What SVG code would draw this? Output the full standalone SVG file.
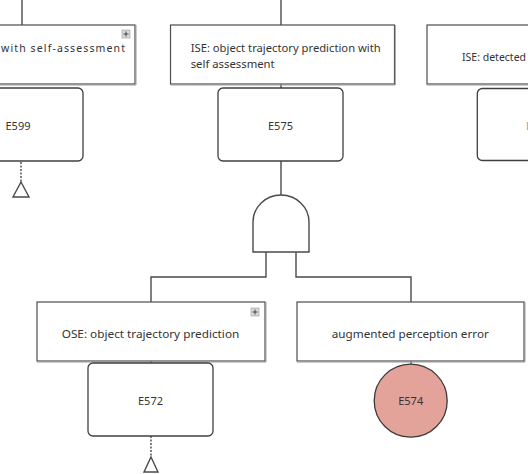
<svg xmlns="http://www.w3.org/2000/svg" width="528" height="474" viewBox="0 0 528 474">
  <style>
    .desc { fill: #ffffff; stroke: #4d4d4d; stroke-width: 1.2; }
    .shadow { fill: none; stroke: #9a9a9a; stroke-width: 1; }
    .event { fill: #ffffff; stroke: #3f3f3f; stroke-width: 1.3; }
    .txt { font-family: "Noto Sans", "Open Sans", "Liberation Sans", sans-serif; font-size: 10.5px; fill: #333333; }
    .lbl { font-family: "Noto Sans", "Open Sans", "Liberation Sans", sans-serif; font-size: 11px; fill: #333333; text-anchor: middle; }
    .wire { fill: none; stroke: #4a4a4a; stroke-width: 1.4; }
    .dash { fill: none; stroke: #4a4a4a; stroke-width: 1.4; stroke-dasharray: 2 1.5; }
    .gate { fill: #ffffff; stroke: #4a4a4a; stroke-width: 1.4; }
    .plusbox { fill: #d9d9d9; stroke: #9a9a9a; stroke-width: 0.6; }
    .plus { stroke: #444444; stroke-width: 1; }
  </style>

  <!-- connectors -->
  <g id="connectors">
    <path class="wire" d="M22,0 V25"/>
    <path class="wire" d="M281,0 V25"/>
    <path class="wire" d="M281,84 V88"/>
    <path class="wire" d="M281,161 V195"/>
    <path class="wire" d="M266,252 V277 H151 V302"/>
    <path class="wire" d="M296,252 V277 H411 V302"/>
    <path class="wire" d="M151,361 V363"/>
    <path class="wire" d="M411,361 V364"/>
    <path class="dash" d="M21,162 V182"/>
    <path class="dash" d="M151,436 V457"/>
  </g>

  <!-- AND gate under E575 -->
  <g id="gate-and">
    <path class="gate" d="M253,252 V222 A28,27 0 0 1 309,222 V252 Z"/>
  </g>

  <!-- left branch: self-assessment -->
  <g id="node-left">
    <rect class="desc" x="-89" y="25" width="224" height="59"/>
    <path class="shadow" d="M-89,85 H136 V25"/>
    <rect class="plusbox" x="122" y="30" width="8" height="8"/>
    <path class="plus" d="M123.5,34 H128.5 M126,31.5 V36.5"/>
    <text class="txt" x="125" y="52" text-anchor="end" textLength="124" lengthAdjust="spacing">with self-assessment</text>
  </g>
  <g id="event-e599">
    <rect class="event" x="-42" y="88" width="125" height="73" rx="5"/>
    <text class="lbl" x="30.5" y="129.5" style="text-anchor:end">E599</text>
  </g>
  <g id="transfer-left">
    <path class="gate" d="M21,182 L29,197 H13 Z"/>
  </g>

  <!-- middle branch -->
  <g id="node-ise-trajectory">
    <rect class="desc" x="170.5" y="25" width="224" height="59"/>
    <path class="shadow" d="M170.5,85 H395.3 V25"/>
    <text class="txt" x="190.7" y="52" textLength="190" lengthAdjust="spacingAndGlyphs">ISE: object trajectory prediction with</text>
    <text class="txt" x="190.7" y="68" textLength="84" lengthAdjust="spacingAndGlyphs">self assessment</text>
  </g>
  <g id="event-e575">
    <rect class="event" x="218" y="88" width="125" height="73" rx="5"/>
    <text class="lbl" x="280.5" y="129.5">E575</text>
  </g>

  <!-- right branch -->
  <g id="node-ise-detected">
    <rect class="desc" x="427" y="25" width="224" height="59"/>
    <path class="shadow" d="M427,85 H652"/>
    <text class="txt" x="462" y="60.5">ISE: detected</text>
  </g>
  <g id="event-right">
    <rect class="event" x="477.3" y="88.5" width="125" height="72" rx="5"/>
    <text class="lbl" x="526" y="129.5" style="text-anchor:start;fill:#c89a6a">E</text>
  </g>

  <!-- OSE: object trajectory prediction -->
  <g id="node-ose">
    <rect class="desc" x="37" y="302" width="228" height="59"/>
    <path class="shadow" d="M37,362 H266 V302"/>
    <rect class="plusbox" x="251" y="308" width="8" height="8"/>
    <path class="plus" d="M252.5,312 H257.5 M255,309.5 V314.5"/>
    <text class="txt" x="150.5" y="337.5" text-anchor="middle" textLength="177.6" lengthAdjust="spacingAndGlyphs">OSE: object trajectory prediction</text>
  </g>
  <g id="event-e572">
    <rect class="event" x="88" y="363" width="125" height="73" rx="5"/>
    <text class="lbl" x="150.5" y="405">E572</text>
  </g>
  <g id="transfer-e572">
    <path class="gate" d="M151,457 L158,472 H144 Z"/>
  </g>

  <!-- augmented perception error -->
  <g id="node-augmented">
    <rect class="desc" x="297" y="302" width="227" height="59"/>
    <path class="shadow" d="M297,362 H525 V302"/>
    <text class="txt" x="410.3" y="337.5" text-anchor="middle" textLength="157" lengthAdjust="spacingAndGlyphs">augmented perception error</text>
  </g>
  <g id="event-e574">
    <circle cx="410.7" cy="400.7" r="36.5" fill="#e3a39a" stroke="#3a3a3a" stroke-width="1.3"/>
    <text class="lbl" x="410.7" y="405">E574</text>
  </g>
</svg>
